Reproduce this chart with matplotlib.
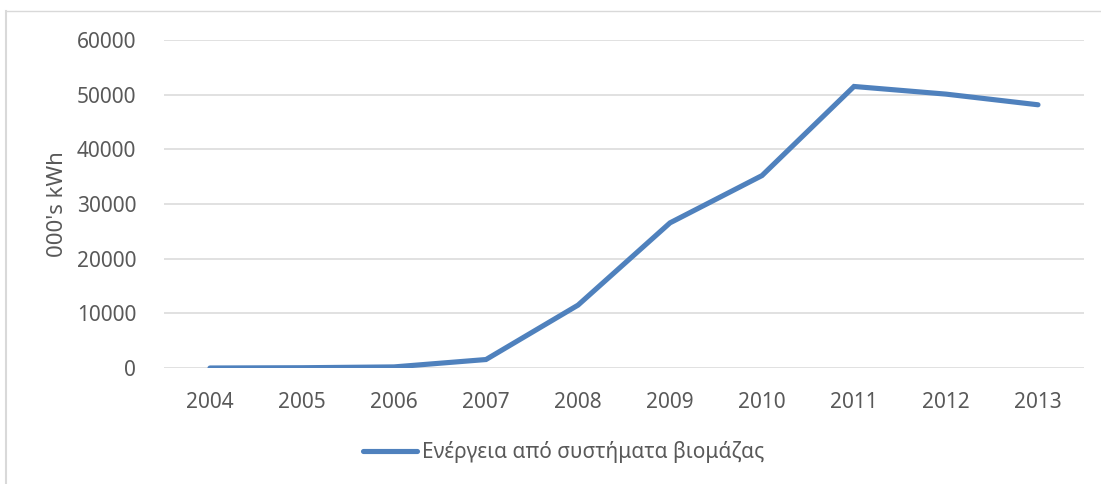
"""
plot.py: Line chart of energy produced from biomass systems, 2004-2013.
"""

import matplotlib
matplotlib.use("Agg")
import matplotlib.pyplot as plt
from matplotlib.lines import Line2D

# Data
years = ["2004", "2005", "2006", "2007", "2008", "2009", "2010", "2011", "2012", "2013"]
energy = [0, 50, 200, 1550, 11500, 26550, 35200, 51500, 50100, 48150]
series_name = "Ενέργεια από συστήματα βιομάζας"
y_ticks = [0, 10000, 20000, 30000, 40000, 50000, 60000]
y_label = "000's kWh"

plt.rcParams["font.family"] = ["Noto Sans", "DejaVu Sans"]

W, H, DPI = 1101, 484, 100
fig = plt.figure(figsize=(W / DPI, H / DPI), dpi=DPI)

# Plot area in pixels (left, top, right, bottom)
left, top, right, bottom = 164, 40, 1084, 368
ax = fig.add_axes([left / W, 1 - bottom / H, (right - left) / W, (bottom - top) / H])

text_grey = "#595959"
line_blue = "#4F81BD"

x = list(range(len(years)))
ax.plot(x, energy, color=line_blue, linewidth=3.7, solid_capstyle="round",
        solid_joinstyle="miter", zorder=3)

ax.set_xlim(-0.5, len(years) - 0.5)
ax.set_ylim(y_ticks[0], y_ticks[-1])
ax.set_xticks(x)
ax.set_xticklabels(years)
ax.set_yticks(y_ticks)

ax.tick_params(axis="both", length=0, labelsize=15, labelcolor=text_grey)
ax.tick_params(axis="x", pad=17)
ax.tick_params(axis="y", pad=20)

ax.grid(axis="y", color="#D9D9D9", linewidth=1.1)
ax.set_axisbelow(True)
for s in ax.spines.values():
    s.set_visible(False)

ax.set_ylabel(y_label, fontsize=16, color=text_grey)
ax.yaxis.set_label_coords(68 / W, 1 - 204 / H, transform=fig.transFigure)

# Legend below the plot
handle = Line2D([0], [0], color=line_blue, linewidth=3.7, solid_capstyle="round")
fig.legend([handle], [series_name], loc="center", bbox_to_anchor=(564 / W, 1 - 452 / H),
           frameon=False, fontsize=15, labelcolor=text_grey,
           handlelength=2.6, handletextpad=0.25)

# Thin chart border at top and left, as in the source image
fig.add_artist(Line2D([6 / W, 1], [1 - 11 / H, 1 - 11 / H], color="#D9D9D9", linewidth=1))
fig.add_artist(Line2D([6 / W, 6 / W], [0, 1 - 11 / H], color="#D9D9D9", linewidth=1.5))

fig.savefig("out.png", dpi=DPI)
